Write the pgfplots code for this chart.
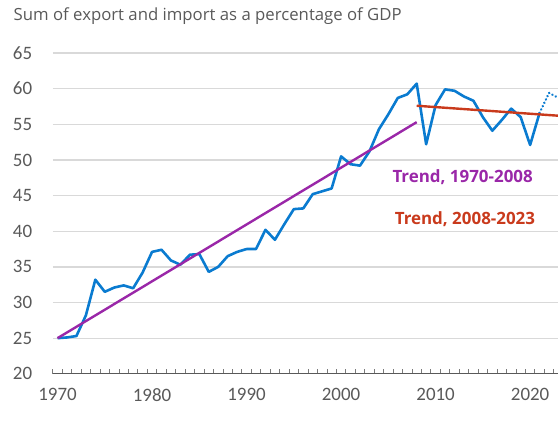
\documentclass[border=0pt]{standalone}
\usepackage{fontspec}
\setmainfont{Carlito}
\newfontfamily\osans{Open Sans}
\usepackage{pgfplots}
\pgfplotsset{compat=1.18}
\definecolor{tblue}{HTML}{0A7BD0}
\definecolor{tpurple}{HTML}{9A27A8}
\definecolor{tred}{HTML}{C93A1C}
\definecolor{tgray}{HTML}{595959}
\definecolor{gridc}{HTML}{D9D9D9}
\begin{document}
\begin{tikzpicture}[x=1bp,y=1bp]
\useasboundingbox (0,0) rectangle (558,431);
\node[anchor=base west, inner sep=0pt, text=tgray, font=\osans\fontsize{16.8}{20}\selectfont] at (13.5,410.5) {Sum of export and import as a percentage of GDP};
\begin{axis}[
  at={(52.8bp,57.2bp)}, anchor=south west,
  scale only axis, width=505.2bp, height=320.8bp,
  xmin=1969.5, xmax=2022.95, ymin=20, ymax=65,
  axis x line*=bottom, axis y line*=left,
  y axis line style={draw=none},
  x axis line style={draw=tgray, line width=1bp, -},
  ytick={20,25,...,65},
  ymajorgrids, major grid style={gridc, line width=1.3bp},
  xtick={1970,1980,...,2020},
  minor xtick={1969.5,1970.5,...,2022.5},
  major tick length=0pt,
  minor tick length=4.5bp,
  tick align=inside,
  minor tick style={tgray!80, line width=0.8bp},
  ytick style={draw=none},
  /pgf/number format/assume math mode=true,
  xticklabel={\pgfmathprintnumber[1000 sep=]{\tick}},
  tick label style={font=\fontsize{19}{21}\selectfont, text=tgray},
  xticklabel style={anchor=north, inner sep=0pt, yshift=-14.5bp},
  yticklabel style={anchor=east, inner sep=0pt, xshift=-20.5bp},
]
\addplot[tblue, line width=2.6bp, line join=round] table {
x y
1970 25.0
1971 25.1
1972 25.3
1973 28.2
1974 33.2
1975 31.5
1976 32.1
1977 32.4
1978 32.0
1979 34.2
1980 37.1
1981 37.4
1982 35.9
1983 35.3
1984 36.7
1985 36.8
1986 34.3
1987 35.0
1988 36.5
1989 37.1
1990 37.5
1991 37.5
1992 40.2
1993 38.8
1994 41.0
1995 43.1
1996 43.2
1997 45.2
1998 45.6
1999 46.0
2000 50.5
2001 49.4
2002 49.2
2003 51.2
2004 54.3
2005 56.4
2006 58.7
2007 59.2
2008 60.7
2009 52.2
2010 57.7
2011 59.9
2012 59.7
2013 58.9
2014 58.3
2015 56.0
2016 54.1
2017 55.6
2018 57.2
2019 56.0
2020 52.1
2021 56.6
};
\addplot[tblue, line width=2.6bp, line cap=round, dash pattern=on 0.1bp off 3.6bp] coordinates {(2021,56.6) (2022,59.4) (2023,58.7)};
\addplot[tpurple, line width=2.4bp] coordinates {(1970,25.0) (2008,55.3)};
\addplot[tred, line width=2.4bp] coordinates {(2008,57.6) (2023,56.2)};
\node[text=tpurple, font=\osans\bfseries\fontsize{17}{20}\selectfont] at (axis cs:2012.86,47.6) {Trend, 1970-2008};
\node[text=tred, font=\osans\bfseries\fontsize{17}{20}\selectfont] at (axis cs:2013.1,41.7) {Trend, 2008-2023};
\end{axis}
\end{tikzpicture}
\end{document}
